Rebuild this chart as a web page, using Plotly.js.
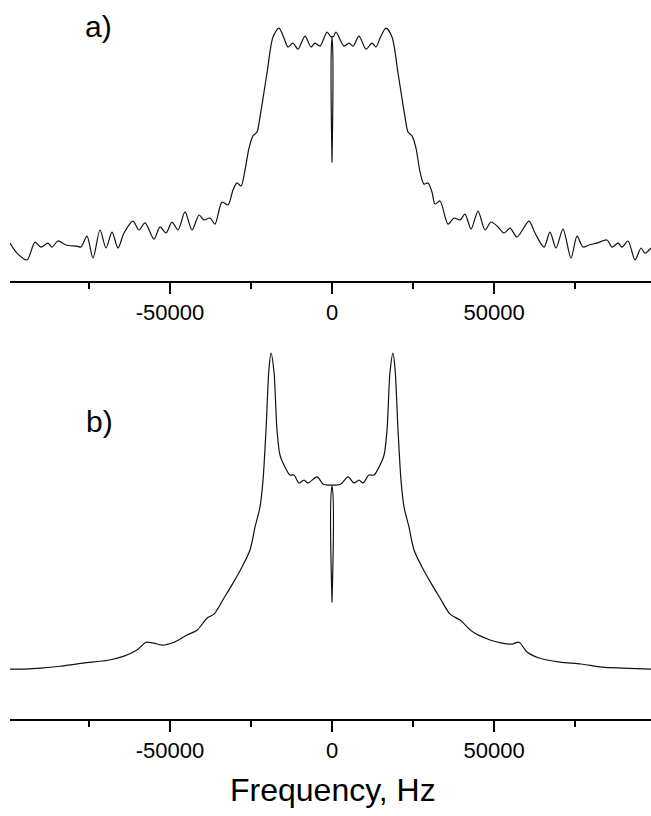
<!DOCTYPE html>
<html>
<head>
<meta charset="utf-8">
<script src="https://cdn.plot.ly/plotly-3.0.1.min.js"></script>
<style>html,body{margin:0;padding:0;background:#fff;}#chart{width:651px;height:816px;}</style>
</head>
<body>
<div id="chart"></div>
<script>
// Panel a) frequency (Hz) and relative intensity (% of max)
const freqA = [-99370,-97210,-94120,-91650,-89800,-87640,-86410,-84560,-82090,-78690,-77460,-75610,-73760,-71600,-69740,-67890,-66040,-64190,-61410,-59560,-57710,-54930,-53080,-51230,-49380,-47520,-45360,-43200,-41040,-39500,-37650,-36110,-33950,-32090,-30550,-29320,-28080,-26850,-25610,-24380,-23150,-22220,-20060,-18210,-16360,-14810,-13580,-12040,-10490,-8330,-6480,-5250,-3700,-1540,-450,-100,0,100,450,1230,3700,5250,6480,8330,10490,12340,13580,14810,16660,18520,20370,22530,23450,24690,25920,27160,28390,29630,30860,31790,33330,35800,37650,39500,41040,42900,45060,47220,49070,51230,53080,54930,57090,60790,62650,65420,67270,69130,71290,73760,75610,77460,79310,81780,84870,86410,88260,89490,91350,93510,95360,96590,98440];
const intensityA = [8.1,3.8,0.9,8.5,6.4,8.1,6.4,9.0,7.3,6.8,6.4,11.1,1.7,13.7,6.0,12.8,6.0,12.4,17.5,13.7,16.7,9.8,15.0,12.4,17.1,13.7,21.4,13.7,20.1,18.0,18.8,16.2,25.6,24.4,30.8,33.8,32.5,39.3,48.7,53.9,55.6,62.0,80.8,96.2,100,95.7,91.9,93.6,91.0,96.6,91.9,93.6,92.3,98.3,96.4,96.2,42.7,96.2,96.4,98.3,92.3,93.6,92.3,96.6,91.0,93.6,91.9,95.7,100,96.2,80.8,62.0,55.6,53.9,48.7,38.5,33.3,33.8,29.9,24.8,26.1,16.2,18.8,18.0,20.5,14.1,21.8,13.7,17.1,15.0,12.4,14.5,10.7,17.5,12.4,6.4,12.8,6.0,14.1,1.7,11.1,6.4,7.3,8.1,9.4,6.4,8.1,6.4,9.0,0.9,6.0,3.8,6.0];

// Panel b)
const freqB = [-99370,-94740,-89800,-83940,-76840,-69130,-64190,-60180,-57400,-54930,-52460,-48760,-44750,-41660,-38580,-36410,-33330,-30550,-27770,-25310,-23760,-22220,-21290,-20370,-19440,-18820,-17900,-16970,-16050,-14500,-12960,-11730,-10180,-8640,-7410,-4630,-2780,-1000,-150,0,150,1000,2780,4940,6790,8330,9570,11420,12960,14500,16050,16970,17900,18820,19440,20370,21290,22220,23760,25310,27770,30550,33330,36410,39500,43510,48760,52460,55550,57710,60180,63880,70360,76840,83320,89490,98440];
const intensityB = [0,0,0.3,0.9,1.9,2.8,4.1,6.0,8.5,8.2,7.6,8.5,10.8,12.3,16.1,17.4,22.5,27.2,32.3,37.7,44.9,51.3,59.8,75.6,95.3,100,94.0,75.6,67.7,63.9,61.4,61.4,58.9,59.8,58.9,60.8,58.6,58.2,58.2,21.2,58.2,58.2,58.6,60.8,58.9,59.8,58.9,61.4,61.4,63.9,67.7,75.6,94.0,100,95.3,75.6,59.8,51.3,44.9,37.7,32.3,27.2,22.5,17.4,15.5,11.7,9.2,8.2,7.9,8.5,5.4,3.5,2.2,1.6,0.6,0.3,0];

const tickVals = [-50000, 0, 50000];
const tickLabels = ['-50000', '0', '50000'];
const panelLabels = ['a)', 'b)'];
const xTitle = 'Frequency, Hz';

const FONT = 'Liberation Sans, Arial, Helvetica, sans-serif';
const lineStyle = {color: '#111', width: 1.2, shape: 'spline', smoothing: 0.8};

const traces = [
  {x: freqA, y: intensityA, type: 'scatter', mode: 'lines', line: lineStyle, xaxis: 'x', yaxis: 'y', hoverinfo: 'none'},
  {x: freqB, y: intensityB, type: 'scatter', mode: 'lines', line: lineStyle, xaxis: 'x2', yaxis: 'y2', hoverinfo: 'none'}
];

function xAxis(anchor) {
  return {
    anchor: anchor,
    range: [-99370, 98440],
    showgrid: false, zeroline: false,
    showline: true, linecolor: '#000', linewidth: 2,
    ticks: 'outside', ticklen: 11, tickwidth: 2, tickcolor: '#000',
    tickmode: 'array', tickvals: tickVals, ticktext: tickLabels,
    minor: {tick0: 0, dtick: 25000, ticks: 'outside', ticklen: 6, tickwidth: 2, tickcolor: '#000', showgrid: false},
    tickfont: {family: FONT, size: 22, color: '#000'},
    fixedrange: true
  };
}

const layout = {
  width: 651, height: 816,
  margin: {l: 10, r: 0, t: 0, b: 97, pad: 0},
  paper_bgcolor: '#fff', plot_bgcolor: '#fff',
  showlegend: false,
  xaxis: Object.assign(xAxis('y'), {domain: [0, 1]}),
  yaxis: {domain: [0.6092, 1], range: [-8.1, 112.0], visible: false, fixedrange: true},
  xaxis2: Object.assign(xAxis('y2'), {domain: [0, 1]}),
  yaxis2: {domain: [0, 0.5410], range: [-15.8, 107.3], visible: false, fixedrange: true},
  annotations: [
    {text: panelLabels[0], xref: 'paper', yref: 'paper', x: 0.1373, y: 0.9638, xanchor: 'center', yanchor: 'middle', showarrow: false, font: {family: FONT, size: 30, color: '#000'}},
    {text: panelLabels[1], xref: 'paper', yref: 'paper', x: 0.1404, y: 0.4131, xanchor: 'center', yanchor: 'middle', showarrow: false, font: {family: FONT, size: 30, color: '#000'}},
    {text: xTitle, xref: 'paper', yref: 'paper', x: 0.5039, y: -0.0987, xanchor: 'center', yanchor: 'middle', showarrow: false, font: {family: FONT, size: 32, color: '#000'}}
  ]
};

Plotly.newPlot('chart', traces, layout, {staticPlot: true, displayModeBar: false});
</script>
</body>
</html>
